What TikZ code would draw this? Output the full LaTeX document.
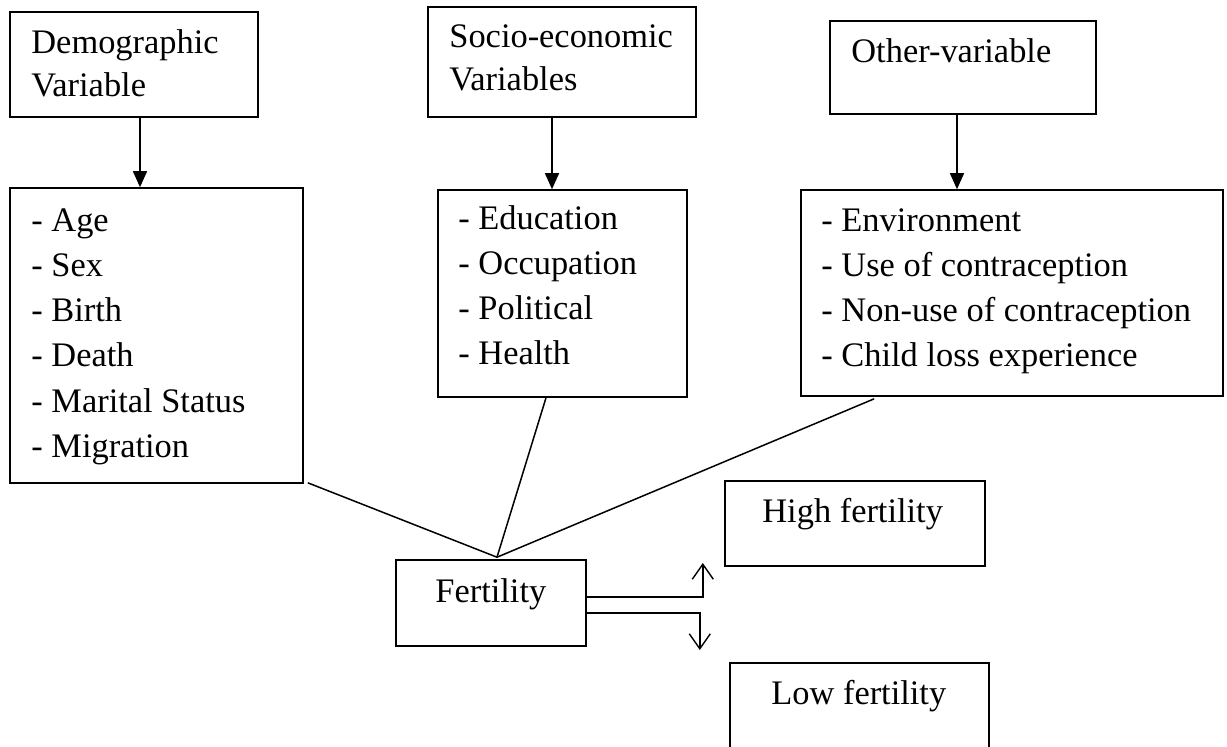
\documentclass[tikz,border=0pt]{standalone}
\usepackage{fontspec}
\setmainfont{Liberation Serif}
\usetikzlibrary{arrows.meta,calc}
\begin{document}
\begin{tikzpicture}[x=1pt,y=-1pt,
  box/.style={draw=black,line width=1.6pt,inner sep=0pt,minimum width=#1},
  txt/.style={anchor=base west,inner sep=0pt,font=\fontsize{34.4}{45.2}\selectfont},
  hdr/.style={anchor=base west,inner sep=0pt,font=\fontsize{34.4}{43}\selectfont},
  tri/.style={line width=1.5pt,-{Triangle[length=16pt,width=14pt]}},
  link/.style={line width=1.5pt},
  barb/.style={line width=1.4pt,-{Straight Barb[length=15pt,width=21pt,line width=1.4pt]}}]
\useasboundingbox (0,0) rectangle (1227,747);
\clip (0,0) rectangle (1227,747);
% boxes
\node[box=248, minimum height=105] (dem) at (134,64.5) {};
\node[box=293, minimum height=295] (demlist) at (156.5,335.5) {};
\node[box=268, minimum height=110] (soc) at (562,62) {};
\node[box=249, minimum height=207] (soclist) at (562.5,293.5) {};
\node[box=266, minimum height=93] (oth) at (963,67.5) {};
\node[box=422, minimum height=206] (othlist) at (1012,293) {};
\node[box=190, minimum height=86] (fert) at (491,603) {};
\node[box=260, minimum height=85] (high) at (855,523.5) {};
\node[box=259, minimum height=100] (low) at (859.5,713) {};
% texts
\node[hdr] (demt) at ($(dem.north west)+(22,42)$) {\begin{tabular}[t]{@{}l@{}}Demographic\\Variable\end{tabular}};
\node[hdr] (soct) at ($(soc.north west)+(22,41)$) {\begin{tabular}[t]{@{}l@{}}Socio-economic\\Variables\end{tabular}};
\node[hdr] (otht) at ($(oth.north west)+(22,42)$) {Other-variable};
\node[txt] (demlt) at ($(demlist.north west)+(22,44)$) {\begin{tabular}[t]{@{}l@{}}- Age\\- Sex\\- Birth\\- Death\\- Marital Status\\- Migration\end{tabular}};
\node[txt] (soclt) at ($(soclist.north west)+(21,40)$) {\begin{tabular}[t]{@{}l@{}}- Education\\- Occupation\\- Political\\- Health\end{tabular}};
\node[txt] (othlt) at ($(othlist.north west)+(21,42)$) {\begin{tabular}[t]{@{}l@{}}- Environment\\- Use of contraception\\- Non-use of contraception\\- Child loss experience\end{tabular}};
\node[txt] (fertt) at ($(fert.north west)+(40,43)$) {Fertility};
\node[txt] (hight) at ($(high.north west)+(38,42)$) {High fertility};
\node[txt] (lowt) at ($(low.north west)+(42,42)$) {Low fertility};
% arrows down
\coordinate (da) at ($(dem.south)+(6,0)$);
\coordinate (sa) at ($(soc.south)+(-10,0)$);
\coordinate (oa) at ($(oth.south)+(-6,0)$);
\draw[tri] (da) -- (da |- demlist.north);
\draw[tri] (sa) -- (sa |- soclist.north);
\draw[tri] (oa) -- (oa |- othlist.north);
% converging lines
\coordinate (fin) at ($(fert.north)+(6,-2)$);
\draw[link] ($(demlist.south east)+(4,-1)$) -- (fin);
\draw[link] ($(soclist.south)+(-16.5,0)$) -- (fin);
\draw[link] ($(othlist.south west)+(74,2)$) -- (fin);
% outputs
\coordinate (u1) at ($(fert.east)+(0,-6)$);
\coordinate (l1) at ($(fert.east)+(0,10)$);
\draw[barb] (u1) -| ++(116,-34);
\draw[barb] (l1) -| ++(113,37);
\end{tikzpicture}
\end{document}
